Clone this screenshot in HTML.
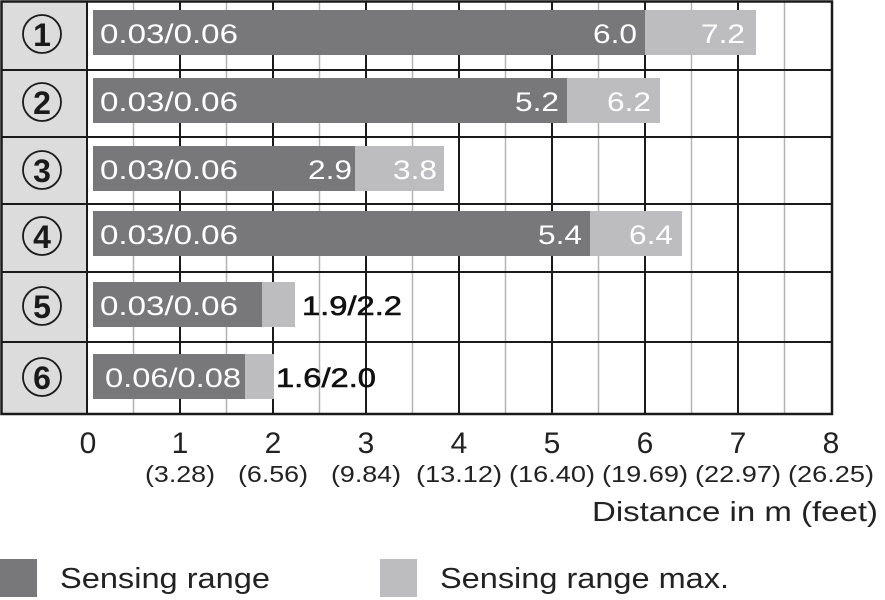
<!DOCTYPE html>
<html><head><meta charset="utf-8"><style>
html,body{margin:0;padding:0;background:#fff;}
svg{display:block;}
text{font-family:"Liberation Sans","DejaVu Sans",sans-serif;}
</style></head><body>
<svg width="885" height="600" viewBox="0 0 885 600" xmlns="http://www.w3.org/2000/svg">
<rect x="1" y="1" width="86" height="413" fill="#dcdcdc"/>
<g stroke="#b4b4b4" stroke-width="1.5">
<line x1="133.5" y1="1" x2="133.5" y2="414"/>
<line x1="226.5" y1="1" x2="226.5" y2="414"/>
<line x1="319.5" y1="1" x2="319.5" y2="414"/>
<line x1="412.5" y1="1" x2="412.5" y2="414"/>
<line x1="505.5" y1="1" x2="505.5" y2="414"/>
<line x1="598.5" y1="1" x2="598.5" y2="414"/>
<line x1="691.5" y1="1" x2="691.5" y2="414"/>
<line x1="784.5" y1="1" x2="784.5" y2="414"/>
</g>
<g stroke="#1a1a1a" stroke-width="2">
<line x1="180" y1="1" x2="180" y2="414"/>
<line x1="273" y1="1" x2="273" y2="414"/>
<line x1="366" y1="1" x2="366" y2="414"/>
<line x1="459" y1="1" x2="459" y2="414"/>
<line x1="552" y1="1" x2="552" y2="414"/>
<line x1="645" y1="1" x2="645" y2="414"/>
<line x1="738" y1="1" x2="738" y2="414"/>
<line x1="87" y1="1" x2="87" y2="414"/>
<line x1="1" y1="70" x2="832" y2="70"/>
<line x1="1" y1="137" x2="832" y2="137"/>
<line x1="1" y1="204" x2="832" y2="204"/>
<line x1="1" y1="272" x2="832" y2="272"/>
<line x1="1" y1="342" x2="832" y2="342"/>
</g>
<rect x="1.5" y="1.5" width="830.5" height="412.5" fill="none" stroke="#1a1a1a" stroke-width="2.5"/>

<g>
<rect x="93" y="10" width="552" height="45" fill="#78787a"/><rect x="645" y="10" width="111" height="45" fill="#bdbdbf"/>
<rect x="93" y="78" width="474" height="45" fill="#78787a"/><rect x="567" y="78" width="93" height="45" fill="#bdbdbf"/>
<rect x="93" y="146" width="262" height="45" fill="#78787a"/><rect x="355" y="146" width="89" height="45" fill="#bdbdbf"/>
<rect x="93" y="211" width="497" height="45" fill="#78787a"/><rect x="590" y="211" width="92" height="45" fill="#bdbdbf"/>
<rect x="93" y="282" width="169" height="45" fill="#78787a"/><rect x="262" y="282" width="33" height="45" fill="#bdbdbf"/>
<rect x="93" y="354" width="152" height="45" fill="#78787a"/><rect x="245" y="354" width="29" height="45" fill="#bdbdbf"/>
</g>
<g fill="#fff" font-size="27">
<text x="100" y="43" textLength="138" lengthAdjust="spacingAndGlyphs">0.03/0.06</text>
<text x="100" y="111" textLength="138" lengthAdjust="spacingAndGlyphs">0.03/0.06</text>
<text x="100" y="179" textLength="138" lengthAdjust="spacingAndGlyphs">0.03/0.06</text>
<text x="100" y="244" textLength="138" lengthAdjust="spacingAndGlyphs">0.03/0.06</text>
<text x="100" y="315" textLength="138" lengthAdjust="spacingAndGlyphs">0.03/0.06</text>
<text x="105" y="387" textLength="136" lengthAdjust="spacingAndGlyphs">0.06/0.08</text>
<text x="593" y="43" textLength="44" lengthAdjust="spacingAndGlyphs">6.0</text>
<text x="701" y="43" textLength="44" lengthAdjust="spacingAndGlyphs">7.2</text>
<text x="515" y="111" textLength="44" lengthAdjust="spacingAndGlyphs">5.2</text>
<text x="607" y="111" textLength="44" lengthAdjust="spacingAndGlyphs">6.2</text>
<text x="308" y="179" textLength="44" lengthAdjust="spacingAndGlyphs">2.9</text>
<text x="393" y="179" textLength="44" lengthAdjust="spacingAndGlyphs">3.8</text>
<text x="538" y="244" textLength="44" lengthAdjust="spacingAndGlyphs">5.4</text>
<text x="629" y="244" textLength="44" lengthAdjust="spacingAndGlyphs">6.4</text>
</g>
<g fill="#111" font-size="27" stroke="#111" stroke-width="0.6">
<text x="302" y="315" textLength="100" lengthAdjust="spacingAndGlyphs">1.9/2.2</text>
<text x="276" y="387" textLength="100" lengthAdjust="spacingAndGlyphs">1.6/2.0</text>
</g>
<g fill="none" stroke="#1a1a1a" stroke-width="1.8">
<circle cx="42" cy="34" r="19"/>
<circle cx="42" cy="102" r="19"/>
<circle cx="42" cy="170" r="19"/>
<circle cx="42" cy="236" r="19"/>
<circle cx="42" cy="306" r="19"/>
<circle cx="42" cy="377" r="19"/>
</g>
<g fill="#1a1a1a" font-size="32" font-weight="bold" text-anchor="middle">
<text x="42" y="46">1</text>
<text x="42" y="114">2</text>
<text x="42" y="182">3</text>
<text x="42" y="248">4</text>
<text x="42" y="318">5</text>
<text x="42" y="389">6</text>
</g>
<g fill="#222" font-size="30" text-anchor="middle">
<text x="88" y="453">0</text><text x="180" y="453">1</text><text x="273" y="453">2</text><text x="366" y="453">3</text>
<text x="459" y="453">4</text><text x="552" y="453">5</text><text x="645" y="453">6</text><text x="738" y="453">7</text><text x="831" y="453">8</text>
</g>
<g fill="#222" font-size="23" text-anchor="middle">
<text x="180" y="482" textLength="70" lengthAdjust="spacingAndGlyphs">(3.28)</text>
<text x="273" y="482" textLength="70" lengthAdjust="spacingAndGlyphs">(6.56)</text>
<text x="366" y="482" textLength="70" lengthAdjust="spacingAndGlyphs">(9.84)</text>
<text x="459" y="482" textLength="86" lengthAdjust="spacingAndGlyphs">(13.12)</text>
<text x="552" y="482" textLength="86" lengthAdjust="spacingAndGlyphs">(16.40)</text>
<text x="645" y="482" textLength="86" lengthAdjust="spacingAndGlyphs">(19.69)</text>
<text x="738" y="482" textLength="86" lengthAdjust="spacingAndGlyphs">(22.97)</text>
<text x="831" y="482" textLength="86" lengthAdjust="spacingAndGlyphs">(26.25)</text>
</g>
<text x="592" y="521" fill="#222" font-size="28" textLength="286" lengthAdjust="spacingAndGlyphs">Distance in m (feet)</text>
<rect x="0" y="559" width="37" height="38" fill="#78787a"/>
<text x="60" y="588" fill="#222" font-size="29" textLength="210" lengthAdjust="spacingAndGlyphs">Sensing range</text>
<rect x="380" y="559" width="37" height="38" fill="#bdbdbf"/>
<text x="440" y="588" fill="#222" font-size="29" textLength="289" lengthAdjust="spacingAndGlyphs">Sensing range max.</text>
</svg>
</body></html>
